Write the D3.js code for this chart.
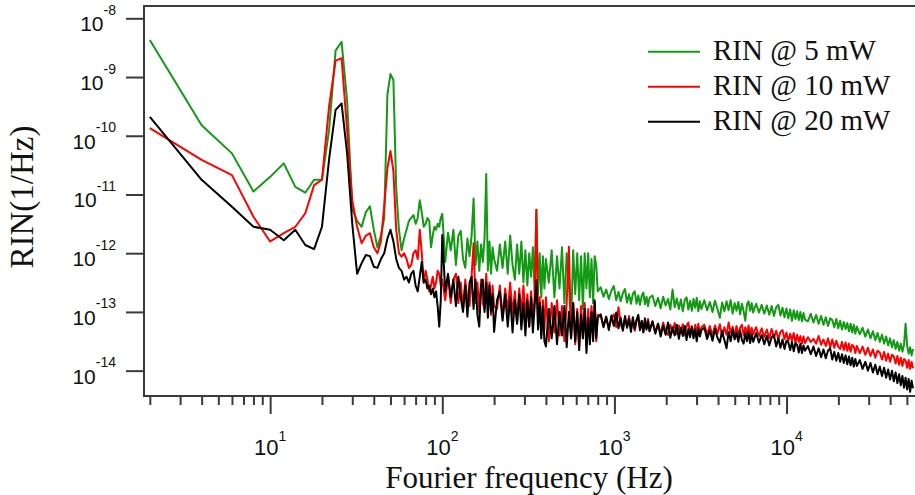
<!DOCTYPE html>
<html><head>
<meta charset="utf-8">
<script src="https://cdn.jsdelivr.net/npm/d3@7"></script>
<style>
  body { margin: 0; background: #fff; }
  .tick-label { font-family: "Liberation Sans", Arial, sans-serif; fill: #111; }
  .serif { font-family: "Liberation Serif", "Times New Roman", serif; fill: #111; }
  .spectrum { fill: none; stroke-width: 2; stroke-linejoin: round; }
  .frame, .ticks line { stroke: #3a3a3a; stroke-width: 2; }
</style>
</head>
<body>
<svg id="chart" width="915" height="495"></svg>
<script>

// frequency bins (Hz), shared by the three spectra
const freqHz = [
  2,4,6,8,10,12,14,16,18,20,22,24,26,28,30,32,34,36,38,40,42,44,46,48,50,
  52,54,56,58,60,62,64,66,68,70,72,74,76,78,80,82,84,86,88,90,92,94,96,98,100,
  104,108,112,116,120,124,128,132,136,140,144,148,152,156,160,164,168,172,176,180,184,188,192,196,200,
  208,216,224,232,240,248,256,264,272,280,288,296,304,312,320,328,336,344,352,360,368,376,384,392,400,
  416,432,448,464,480,496,512,528,544,560,576,592,608,624,640,656,672,688,704,720,736,752,768,784,800,
  832,864,896,928,960,992,1024,1056,1088,1120,1152,1184,1216,1248,1280,1312,1344,1376,1408,1440,1472,1504,1536,1568,1600,
  1664,1728,1792,1856,1920,1984,2048,2112,2176,2240,2304,2368,2432,2496,2560,2624,2688,2752,2816,2880,2944,3008,3072,3136,3200,
  3328,3456,3584,3712,3840,3968,4096,4224,4352,4480,4608,4736,4864,4992,5120,5248,5376,5504,5632,5760,5888,6016,6144,6272,6400,
  6656,6912,7168,7424,7680,7936,8192,8448,8704,8960,9216,9472,9728,9984,10240,10496,10752,11008,11264,11520,11776,12032,12288,12544,12800,
  13312,13824,14336,14848,15360,15872,16384,16896,17408,17920,18432,18944,19456,19968,20480,20992,21504,22016,22528,23040,23552,24064,24576,25088,25600,
  26624,27648,28672,29696,30720,31744,32768,33792,34816,35840,36864,37888,38912,39936,40960,41984,43008,44032,45056,46080,47104,48128,49152,50176,51200,52224,53248,54272
];

// log10 of RIN (1/Hz), one value per bin
const rin5mW = [
  -8.37,-9.82,-10.30,-10.95,-10.70,-10.47,-10.87,-10.97,-10.75,-10.75,-9.90,-8.55,-8.40,-9.40,-11.25,-11.45,-11.55,-11.30,-11.20,-11.60,-11.90,-11.70,-11.40,-9.30,-8.95,
  -9.05,-10.90,-11.60,-11.95,-11.75,-11.60,-11.45,-11.40,-11.35,-11.50,-11.40,-11.10,-11.30,-11.55,-11.50,-11.40,-11.45,-11.90,-11.70,-11.55,-11.60,-11.50,-11.55,-11.40,-11.33,
  -12.15,-11.65,-11.95,-11.6,-12.2,-11.7,-11.62,-12.1,-12.25,-11.75,-12.05,-11.7,-11.07,-12.2,-11.8,-12.3,-11.85,-12.15,-11.75,-10.65,-12.3,-11.8,-12.35,-11.9,-12.1,
  -12.3,-11.85,-12.25,-11.8,-12.35,-11.7,-12.2,-12.45,-11.85,-12.35,-11.8,-12.5,-11.95,-12.55,-12.0,-12.4,-11.9,-12.65,-11.26,-12.7,-12.0,-12.75,-12.05,-12.6,-12.1,
  -12.5,-11.95,-12.75,-12.05,-12.6,-11.9,-12.85,-12.0,-12.55,-13.25,-11.95,-12.7,-12.0,-12.8,-12.05,-12.95,-12.0,-12.6,-12.0,-12.75,-12.1,-12.85,-12.05,-12.2,-12.65,
  -12.58,-12.74,-12.62,-12.78,-12.64,-12.56,-12.80,-12.66,-12.82,-12.68,-12.61,-12.84,-12.70,-12.86,-12.69,-12.65,-12.86,-12.72,-12.88,-12.73,-12.67,-12.87,-12.74,-12.90,-12.76,
  -12.72,-12.90,-12.76,-12.94,-12.74,-12.89,-12.78,-12.96,-12.62,-12.92,-12.77,-12.95,-12.79,-12.99,-12.80,-12.75,-12.96,-12.81,-12.98,-12.78,-12.93,-12.76,-12.99,-12.82,-12.95,
  -12.80,-12.97,-12.83,-13.00,-12.81,-12.95,-13.10,-12.84,-12.99,-12.82,-12.97,-12.80,-13.03,-12.85,-12.98,-12.83,-13.04,-12.86,-12.99,-13.15,-12.87,-12.82,-12.98,-12.85,-13.01,
  -12.86,-13.01,-12.88,-13.03,-12.89,-13.05,-12.90,-13.07,-12.92,-12.88,-13.06,-12.93,-13.09,-12.94,-13.11,-12.96,-13.15,-12.97,-13.12,-12.99,-13.14,-13.00,-13.16,-13.02,-13.13,
  -13.16,-13.03,-13.18,-13.05,-13.20,-13.07,-13.22,-13.09,-13.24,-13.11,-13.14,-13.26,-13.12,-13.28,-13.15,-13.30,-13.17,-13.29,-13.19,-13.33,-13.20,-13.35,-13.22,-13.37,-13.25,
  -13.38,-13.27,-13.42,-13.30,-13.45,-13.33,-13.48,-13.36,-13.51,-13.39,-13.54,-13.42,-13.57,-13.45,-13.60,-13.48,-13.63,-13.51,-13.66,-13.54,-13.68,-13.56,-13.20,-13.58,-13.71,-13.60,-13.74,-13.63
];
const rin10mW = [
  -9.87,-10.41,-10.67,-11.38,-11.80,-11.66,-11.55,-11.32,-10.84,-10.75,-9.50,-8.72,-8.68,-9.90,-11.10,-11.55,-11.83,-11.70,-11.66,-11.90,-12.00,-11.80,-11.20,-10.55,-10.26,
  -10.60,-11.60,-12.00,-12.06,-12.00,-12.10,-12.25,-12.20,-12.00,-11.95,-12.10,-11.60,-12.00,-12.50,-12.30,-12.45,-12.65,-12.55,-12.40,-12.60,-12.50,-12.30,-12.35,-12.55,-12.45,
  -12.8,-12.4,-12.85,-12.45,-12.35,-12.85,-12.5,-12.95,-12.45,-12.8,-12.9,-12.4,-11.83,-12.85,-12.5,-13.0,-12.45,-12.85,-12.95,-12.35,-12.9,-12.5,-13.05,-12.55,-12.9,
  -12.95,-12.55,-13.1,-12.6,-13.0,-12.5,-13.05,-12.65,-13.2,-12.6,-13.05,-12.55,-13.1,-12.7,-13.25,-12.65,-13.1,-12.75,-11.26,-13.15,-12.75,-13.4,-12.8,-13.3,-12.75,
  -13.5,-12.85,-13.35,-12.8,-13.4,-12.9,-13.5,-12.85,-11.89,-13.45,-12.85,-13.55,-12.95,-13.6,-12.9,-13.45,-12.85,-13.55,-12.95,-13.45,-12.9,-13.4,-12.85,-13.5,-13.05,
  -13.06,-13.24,-13.09,-13.28,-13.11,-13.04,-13.26,-12.92,-13.22,-13.30,-13.10,-13.25,-13.07,-13.29,-13.13,-13.32,-13.15,-13.09,-13.31,-13.16,-13.34,-13.14,-13.28,-13.12,-13.32,
  -13.17,-13.34,-13.20,-13.37,-13.18,-13.33,-13.39,-13.22,-13.35,-13.19,-13.38,-13.23,-13.36,-13.21,-13.40,-13.24,-13.18,-13.37,-13.25,-13.41,-13.22,-13.35,-13.20,-13.38,-13.26,
  -13.22,-13.38,-13.24,-13.40,-13.23,-13.37,-13.21,-13.42,-13.26,-13.39,-13.18,-13.36,-13.25,-13.41,-13.24,-13.38,-13.27,-13.22,-13.40,-13.26,-13.37,-13.23,-13.39,-13.27,-13.38,
  -13.26,-13.41,-13.28,-13.43,-13.30,-13.45,-13.29,-13.44,-13.32,-13.47,-13.34,-13.31,-13.46,-13.35,-13.50,-13.37,-13.48,-13.36,-13.52,-13.39,-13.51,-13.41,-13.54,-13.42,-13.53,
  -13.43,-13.51,-13.46,-13.54,-13.41,-13.56,-13.47,-13.58,-13.45,-13.60,-13.47,-13.61,-13.49,-13.59,-13.63,-13.51,-13.65,-13.52,-13.66,-13.54,-13.68,-13.56,-13.59,-13.70,-13.58,
  -13.70,-13.59,-13.73,-13.61,-13.75,-13.64,-13.78,-13.66,-13.69,-13.81,-13.68,-13.83,-13.71,-13.85,-13.73,-13.76,-13.88,-13.75,-13.90,-13.78,-13.92,-13.80,-13.83,-13.95,-13.82,-13.97,-13.85,-13.96
];
const rin20mW = [
  -9.68,-10.75,-11.21,-11.55,-11.60,-11.78,-11.60,-11.86,-11.93,-11.55,-10.40,-9.56,-9.45,-10.30,-11.50,-12.35,-12.17,-12.03,-12.05,-12.23,-12.25,-12.10,-12.00,-11.75,-11.60,
  -11.80,-12.10,-12.25,-12.30,-12.45,-12.40,-12.50,-12.35,-12.30,-12.55,-12.65,-12.40,-12.15,-12.50,-12.45,-12.60,-12.55,-12.70,-12.60,-12.75,-12.65,-12.90,-13.25,-12.80,-11.69,
  -12.65,-12.35,-12.75,-12.45,-12.9,-12.4,-12.75,-13.0,-12.55,-13.08,-12.5,-12.4,-12.95,-12.45,-13.05,-13.25,-12.55,-12.45,-13.0,-12.5,-13.1,-12.55,-13.0,-12.7,-13.34,
  -12.8,-12.65,-13.15,-12.7,-13.25,-12.75,-13.35,-12.8,-13.2,-12.7,-13.3,-12.85,-13.4,-12.8,-13.25,-12.75,-13.35,-12.9,-12.46,-13.3,-12.85,-13.45,-12.9,-13.5,-13.59,
  -12.95,-13.45,-12.9,-13.55,-13.0,-13.4,-12.9,-13.6,-13.0,-13.45,-12.85,-13.5,-13.0,-13.65,-13.05,-13.45,-12.95,-13.7,-13.1,-13.55,-13.0,-13.5,-12.8,-13.45,-13.1,
  -13.04,-13.26,-13.08,-13.31,-13.06,-13.24,-13.01,-13.28,-13.10,-13.32,-13.07,-13.27,-13.12,-13.34,-13.09,-13.29,-13.14,-13.05,-13.31,-13.15,-13.35,-13.11,-13.30,-13.16,-13.33,
  -13.16,-13.37,-13.20,-13.42,-13.23,-13.39,-13.18,-13.44,-13.26,-13.40,-13.22,-13.46,-13.27,-13.41,-13.24,-13.48,-13.29,-13.43,-13.25,-13.45,-13.30,-13.50,-13.28,-13.42,-13.31,
  -13.27,-13.46,-13.31,-13.49,-13.29,-13.44,-13.52,-13.32,-13.48,-13.62,-13.34,-13.50,-13.30,-13.47,-13.35,-13.51,-13.32,-13.48,-13.54,-13.36,-13.50,-13.34,-13.53,-13.38,-13.51,
  -13.36,-13.52,-13.39,-13.55,-13.41,-13.57,-13.43,-13.40,-13.59,-13.45,-13.61,-13.47,-13.63,-13.49,-13.52,-13.65,-13.51,-13.67,-13.53,-13.56,-13.69,-13.54,-13.70,-13.57,-13.66,
  -13.58,-13.72,-13.59,-13.75,-13.62,-13.77,-13.64,-13.79,-13.66,-13.62,-13.81,-13.68,-13.83,-13.70,-13.85,-13.72,-13.87,-13.74,-13.89,-13.76,-13.91,-13.78,-13.93,-13.80,-13.92,
  -13.82,-13.97,-13.85,-14.00,-13.87,-14.03,-13.90,-14.06,-13.93,-14.09,-13.95,-14.12,-13.98,-14.15,-14.00,-14.18,-14.03,-14.21,-14.06,-14.25,-14.09,-14.29,-14.12,-14.32,-14.14,-14.36,-14.17,-14.30
];

const seriesNames = ["RIN @ 5 mW", "RIN @ 10 mW", "RIN @ 20 mW"];
const xTickExponents = [1, 2, 3, 4];
const yTickExponents = [-8, -9, -10, -11, -12, -13, -14];

const colors = ["#129a12", "#ff0000", "#000000"];

let svg = d3.select("#chart");
let plot = { left: 144, right: 914, top: 6, bottom: 396 };

const x = d3.scaleLog().domain([1.85, 55000]).range([plot.left, plot.right]);
const y = d3.scaleLog().domain([3.7e-15, 1.62e-8]).range([plot.bottom, plot.top]);

svg.append("rect").attr("width", 915).attr("height", 495).attr("fill", "#fff");

svg.append("clipPath").attr("id", "clip")
  .append("rect")
  .attr("x", plot.left).attr("y", plot.top)
  .attr("width", plot.right - plot.left + 2).attr("height", plot.bottom - plot.top);

// spectra
let series = [rin5mW, rin10mW, rin20mW].map((vals, i) => ({
  name: seriesNames[i],
  points: freqHz.map((f, j) => ({ f: f, v: Math.pow(10, vals[j]) }))
}));

let line = d3.line()
  .x(d => x(d.f))
  .y(d => y(d.v));

let traces = svg.append("g").attr("clip-path", "url(#clip)");
series.forEach((s, i) => {
  traces.append("path")
    .datum(s.points)
    .attr("class", "spectrum")
    .attr("stroke", colors[i])
    .attr("d", line);
});

// frame (no right edge, the plot runs off the image)
svg.append("path")
  .attr("class", "frame")
  .attr("fill", "none")
  .attr("d", "M915," + plot.top + "H" + plot.left + "V" + plot.bottom + "H915");

// y axis: decade ticks outside the frame
svg.append("g")
  .attr("class", "ticks")
  .attr("transform", "translate(" + plot.left + ",0)")
  .call(d3.axisLeft(y).tickValues(yTickExponents.map(e => Math.pow(10, e))).tickSize(18).tickFormat(""))
  .call(g => g.select(".domain").remove());

let yLabels = svg.append("g").selectAll("text")
  .data(yTickExponents).join("text")
  .attr("class", "tick-label")
  .attr("text-anchor", "end")
  .attr("x", 116)
  .attr("y", e => y(Math.pow(10, e)) + 13);
yLabels.append("tspan").attr("font-size", 21).text("10");
yLabels.append("tspan").attr("font-size", 14).attr("dy", -16.5).text(e => e);

// x axis: major decade ticks plus minor ticks
let minorTicks = [];
[0, 1, 2, 3, 4].forEach(e => {
  for (let m = 2; m <= 9; m++) {
    let v = m * Math.pow(10, e);
    if (v > x.domain()[0] && v < x.domain()[1]) minorTicks.push(v);
  }
});
svg.append("g")
  .attr("class", "ticks")
  .attr("transform", "translate(0," + plot.bottom + ")")
  .call(d3.axisBottom(x).tickValues(minorTicks).tickSize(9).tickFormat(""))
  .call(g => g.select(".domain").remove());
svg.append("g")
  .attr("class", "ticks")
  .attr("transform", "translate(0," + plot.bottom + ")")
  .call(d3.axisBottom(x).tickValues(xTickExponents.map(e => Math.pow(10, e))).tickSize(18).tickFormat(""))
  .call(g => g.select(".domain").remove());

let xLabels = svg.append("g").selectAll("text")
  .data(xTickExponents).join("text")
  .attr("class", "tick-label")
  .attr("text-anchor", "middle")
  .attr("x", e => x(Math.pow(10, e)))
  .attr("y", 455);
xLabels.append("tspan").attr("font-size", 22).text("10");
xLabels.append("tspan").attr("font-size", 14).attr("dy", -14).text(e => e);

// axis titles
svg.append("text")
  .attr("class", "serif")
  .attr("text-anchor", "middle")
  .attr("x", (plot.left + plot.right) / 2)
  .attr("y", 488)
  .attr("font-size", 31)
  .text("Fourier frequency (Hz)");

svg.append("text")
  .attr("class", "serif")
  .attr("text-anchor", "middle")
  .attr("transform", "translate(33,197) rotate(-90)")
  .attr("font-size", 33)
  .text("RIN(1/Hz)");

// legend
let legend = svg.append("g").selectAll("g")
  .data(seriesNames).join("g")
  .attr("transform", (d, i) => "translate(648," + (51.7 + i * 35) + ")");
legend.append("line")
  .attr("x1", 0).attr("x2", 52)
  .attr("stroke", (d, i) => colors[i])
  .attr("stroke-width", 2);
legend.append("text")
  .attr("class", "serif")
  .attr("x", 65).attr("y", 8.5)
  .attr("font-size", 29)
  .text(d => d);

</script>
</body>
</html>
